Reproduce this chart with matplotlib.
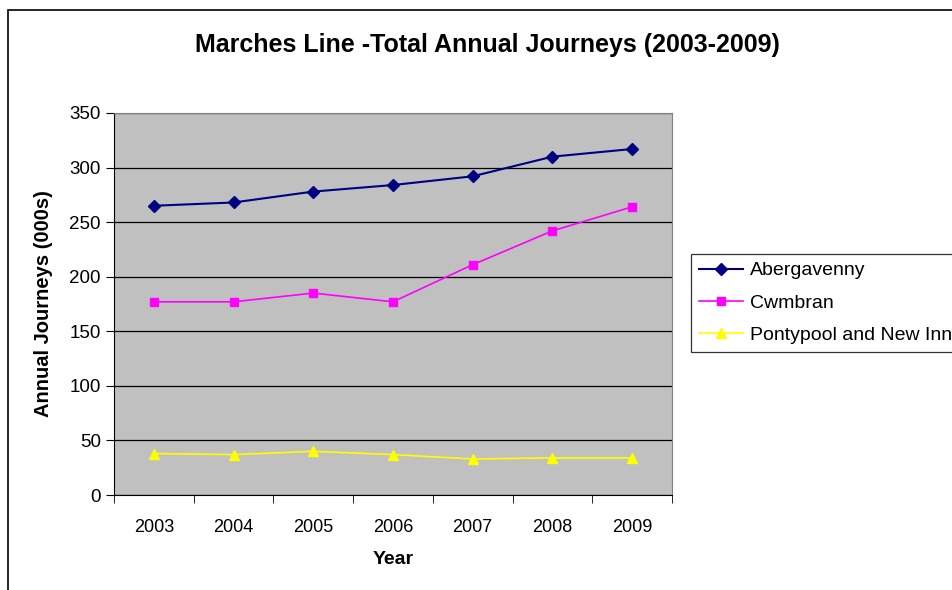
import matplotlib
matplotlib.use("Agg")
import matplotlib.pyplot as plt
from matplotlib.patches import Rectangle
import numpy as np

plt.rcParams['font.family'] = ['Liberation Sans', 'DejaVu Sans']

years = ['2003', '2004', '2005', '2006', '2007', '2008', '2009']
abergavenny = [265, 268, 278, 284, 292, 310, 317]
cwmbran = [177, 177, 185, 177, 211, 242, 264]
pontypool = [38, 37, 40, 37, 33, 34, 34]

fig = plt.figure(figsize=(9.53, 5.90), dpi=100)
ax = fig.add_axes([0.1196, 0.161, 0.5855, 0.6475])

# outer chart border (clipped on the right and bottom like the source)
fig.patches.append(Rectangle((8 / 953, -0.1), 2.0, 1 - 10 / 590 + 0.1,
                             transform=fig.transFigure, fill=False,
                             edgecolor='black', linewidth=1.2))

x = np.arange(len(years))
ax.plot(x, abergavenny, color='#000080', marker='D', markersize=6,
        linewidth=1.5, label='Abergavenny')
ax.plot(x, cwmbran, color='#FF00FF', marker='s', markersize=6,
        linewidth=1.2, label='Cwmbran')
ax.plot(x, pontypool, color='#FFFF00', marker='^', markersize=7,
        linewidth=1.2, label='Pontypool and New Inn')

ax.set_facecolor('#C0C0C0')
ax.set_xlim(-0.5, len(years) - 0.5)
ax.set_ylim(0, 350)
ax.set_yticks(np.arange(0, 351, 50))
ax.yaxis.grid(True, color='black', linewidth=0.9)
ax.set_axisbelow(True)

ax.set_xticks(x)
ax.set_xticklabels(years)
ax.set_xticks(np.arange(-0.5, len(years)), minor=True)
ax.tick_params(axis='x', which='major', length=0, pad=17, labelsize=13)
ax.tick_params(axis='x', which='minor', length=6, color='black')
ax.tick_params(axis='y', length=6, labelsize=13.5, color='black', direction='out')

for side in ['top', 'right']:
    ax.spines[side].set_color('#808080')
for side in ['left', 'bottom']:
    ax.spines[side].set_color('black')

ax.set_xlabel('Year', fontsize=14, fontweight='bold', labelpad=11)
ax.set_ylabel('Annual Journeys (000s)', fontsize=14.5, fontweight='bold', labelpad=12)
fig.text(0.512, 0.923, 'Marches Line -Total Annual Journeys (2003-2009)',
         ha='center', va='center', fontsize=18, fontweight='bold')

leg = fig.legend(loc='upper left', bbox_to_anchor=(0.725, 0.5695),
                 fontsize=14, frameon=True, fancybox=False, handlelength=2.3,
                 handletextpad=0.35, borderaxespad=0, labelspacing=0.75)
leg.get_frame().set_edgecolor('black')
leg.get_frame().set_linewidth(0.9)

fig.savefig('out.png', dpi=100)
